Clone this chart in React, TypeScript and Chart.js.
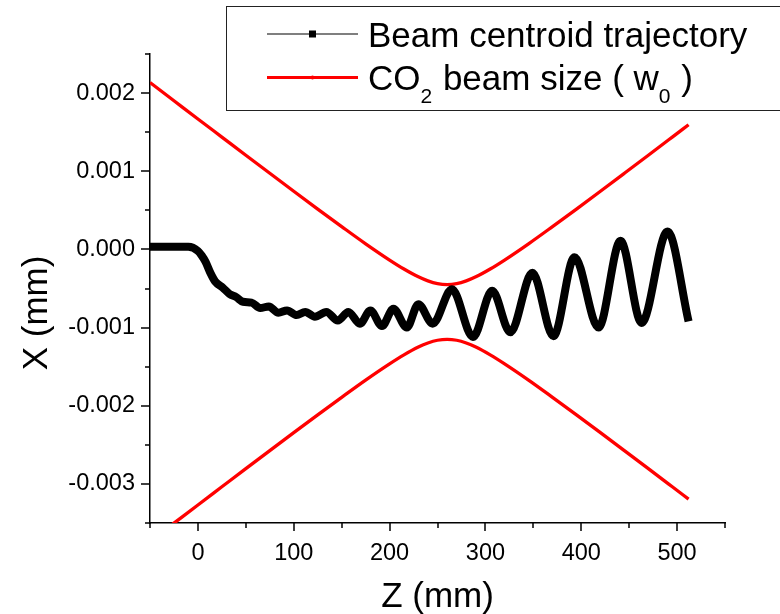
import React, { useEffect, useRef } from 'react';
import { Chart, registerables } from 'chart.js';

Chart.register(...registerables);

// Beam centroid trajectory (Z in mm, X in mm)
const trajZ = [-50, -30, -10, 0, 4, 8, 13, 18, 26, 33, 40, 47, 56, 65, 74, 84, 93, 103, 112, 122, 134, 146, 157, 169, 180, 192, 204, 218, 230, 245, 265, 287, 307, 326, 349, 371, 393, 418, 441, 463, 490, 512];
const trajX = [0.000035, 0.000035, 0.000033, -0.00002, -0.00008, -0.00016, -0.0003, -0.00041, -0.00049, -0.00057, -0.00061, -0.00067, -0.00068, -0.00075, -0.00073, -0.00081, -0.00078, -0.00084, -0.0008, -0.00086, -0.0008, -0.00091, -0.0008, -0.00095, -0.00078, -0.00098, -0.00076, -0.001, -0.0007, -0.00095, -0.00051, -0.00112, -0.00053, -0.00106, -0.0003, -0.00111, -0.0001, -0.001, 0.00011, -0.00094, 0.00023, -0.00092];

// CO2 beam size envelope (upper and lower edges)
const beamZ = [-50, -25, 0, 25, 50, 75, 100, 125, 150, 175, 200, 215, 230, 240, 250, 260, 270, 280, 290, 305, 320, 345, 370, 395, 420, 445, 470, 495, 512];
const beamUpper = [0.002135, 0.001902, 0.001669, 0.001437, 0.001205, 0.000974, 0.000744, 0.000516, 0.000292, 0.000072, -0.000136, -0.000251, -0.000351, -0.000403, -0.000438, -0.00045, -0.000438, -0.000403, -0.000351, -0.000251, -0.000136, 0.000072, 0.000292, 0.000516, 0.000744, 0.000974, 0.001205, 0.001437, 0.001595];
const beamLower = [-0.003735, -0.003502, -0.003269, -0.003037, -0.002805, -0.002574, -0.002344, -0.002116, -0.001892, -0.001672, -0.001464, -0.001349, -0.001249, -0.001197, -0.001162, -0.00115, -0.001162, -0.001197, -0.001249, -0.001349, -0.001464, -0.001672, -0.001892, -0.002116, -0.002344, -0.002574, -0.002805, -0.003037, -0.003195];

// Labelled (major) ticks
const xMajorTicks = [0, 100, 200, 300, 400, 500];
const yMajorTicks = [-0.003, -0.002, -0.001, 0, 0.001, 0.002];

const xTitle = 'Z (mm)';
const yTitle = 'X (mm)';
const legendTrajectory = 'Beam centroid trajectory';

const FONT = '"Liberation Sans", Arial, Helvetica, sans-serif';

const isMajorX = (v: number) => xMajorTicks.some((t) => Math.abs(t - v) < 1e-6);
const isMajorY = (v: number) => yMajorTicks.some((t) => Math.abs(t - v) < 1e-9);

const decorPlugin = {
  id: 'decor',
  afterDraw(chart: any) {
    const { ctx, chartArea } = chart;
    const xs = chart.scales.x;
    const ys = chart.scales.y;
    ctx.save();
    ctx.strokeStyle = '#000';
    ctx.lineWidth = 1.5;
    // tick marks
    xs.ticks.forEach((t: any) => {
      const px = Math.round(xs.getPixelForValue(t.value));
      const len = isMajorX(t.value) ? 8 : 5;
      ctx.beginPath();
      ctx.moveTo(px, chartArea.bottom);
      ctx.lineTo(px, chartArea.bottom + len);
      ctx.stroke();
    });
    ys.ticks.forEach((t: any) => {
      const py = Math.round(ys.getPixelForValue(t.value));
      const len = isMajorY(t.value) ? 9 : 5;
      ctx.beginPath();
      ctx.moveTo(chartArea.left, py);
      ctx.lineTo(chartArea.left - len, py);
      ctx.stroke();
    });

    // axis titles
    ctx.fillStyle = '#000';
    ctx.font = `35px ${FONT}`;
    ctx.textAlign = 'center';
    ctx.textBaseline = 'alphabetic';
    ctx.fillText(xTitle, (chartArea.left + chartArea.right) / 2, 607);
    ctx.save();
    ctx.translate(47, 313);
    ctx.rotate(-Math.PI / 2);
    ctx.fillText(yTitle, 0, 0);
    ctx.restore();

    // legend box
    ctx.fillStyle = '#fff';
    ctx.fillRect(226.5, 6.5, 600, 104);
    ctx.strokeStyle = '#222';
    ctx.lineWidth = 1;
    ctx.strokeRect(226.5, 6.5, 600, 104);

    // legend sample 1: black line with square marker
    ctx.strokeStyle = '#000';
    ctx.lineWidth = 1.2;
    ctx.beginPath();
    ctx.moveTo(267, 34);
    ctx.lineTo(358, 34);
    ctx.stroke();
    ctx.fillStyle = '#000';
    ctx.fillRect(309, 30.5, 7, 7);

    // legend sample 2: red line
    ctx.strokeStyle = '#ff0000';
    ctx.lineWidth = 3.2;
    ctx.beginPath();
    ctx.moveTo(267, 77.5);
    ctx.lineTo(358, 77.5);
    ctx.stroke();
    ctx.fillStyle = '#ff0000';
    ctx.beginPath();
    ctx.arc(312.5, 77.5, 2, 0, Math.PI * 2);
    ctx.fill();

    // legend texts
    ctx.fillStyle = '#000';
    ctx.textAlign = 'left';
    ctx.font = `35px ${FONT}`;
    ctx.fillText(legendTrajectory, 368, 47);
    let cx = 368;
    const big = `35px ${FONT}`;
    const small = `21px ${FONT}`;
    const parts: [string, string, number][] = [
      ['CO', big, 90],
      ['2', small, 103],
      [' beam size ( w', big, 90],
      ['0', small, 103],
      [' )', big, 90],
    ];
    parts.forEach(([txt, f, by]) => {
      ctx.font = f;
      ctx.fillText(txt, cx, by);
      cx += ctx.measureText(txt).width + (f === small ? 1 : 0);
    });
    ctx.restore();
  },
};

export default function App() {
  const canvasRef = useRef<HTMLCanvasElement | null>(null);

  useEffect(() => {
    if (!canvasRef.current) return;
    const chart = new Chart(canvasRef.current, {
      type: 'scatter',
      data: {
        datasets: [
          {
            label: 'Beam centroid trajectory',
            data: trajZ.map((z, i) => ({ x: z, y: trajX[i] })),
            showLine: true,
            borderColor: '#000',
            backgroundColor: '#000',
            borderWidth: 8,
            pointRadius: 0,
            cubicInterpolationMode: 'monotone',
            borderJoinStyle: 'round',
          },
          {
            label: 'CO2 beam size upper',
            data: beamZ.map((z, i) => ({ x: z, y: beamUpper[i] })),
            showLine: true,
            borderColor: '#ff0000',
            backgroundColor: '#ff0000',
            borderWidth: 3.3,
            pointRadius: 0,
            cubicInterpolationMode: 'monotone',
          },
          {
            label: 'CO2 beam size lower',
            data: beamZ.map((z, i) => ({ x: z, y: beamLower[i] })),
            showLine: true,
            borderColor: '#ff0000',
            backgroundColor: '#ff0000',
            borderWidth: 3.3,
            pointRadius: 0,
            cubicInterpolationMode: 'monotone',
          },
        ],
      },
      options: {
        animation: false,
        responsive: false,
        events: [],
        layout: { padding: { top: 54, right: 55, left: 0, bottom: 0 } },
        plugins: {
          legend: { display: false },
          tooltip: { enabled: false },
        },
        scales: {
          x: {
            type: 'linear',
            min: -50,
            max: 550,
            afterFit: (s: any) => {
              s.height = 91;
            },
            border: { display: true, color: '#000', width: 1.5 },
            grid: { display: true, drawOnChartArea: false, drawTicks: true, tickLength: 8, tickColor: 'rgba(0,0,0,0)' },
            ticks: {
              stepSize: 50,
              autoSkip: false,
              maxRotation: 0,
              padding: 8,
              color: '#000',
              font: { family: FONT, size: 23.5 },
              callback: (v: any) => (isMajorX(Number(v)) ? String(Math.round(Number(v))) : ''),
            },
          },
          y: {
            type: 'linear',
            min: -0.0035,
            max: 0.0025,
            afterFit: (s: any) => {
              s.width = 150;
            },
            border: { display: true, color: '#000', width: 1.5 },
            grid: { display: true, drawOnChartArea: false, drawTicks: true, tickLength: 9, tickColor: 'rgba(0,0,0,0)' },
            ticks: {
              stepSize: 0.0005,
              autoSkip: false,
              padding: 6,
              color: '#000',
              font: { family: FONT, size: 23.5 },
              callback: (v: any) => {
                const n = Number(v);
                return isMajorY(n) ? (Math.round(n * 1000) / 1000).toFixed(3) : '';
              },
            },
          },
        },
      },
      plugins: [decorPlugin],
    } as any);
    return () => chart.destroy();
  }, []);

  return (
    <div style={{ position: 'fixed', left: 0, top: 0, width: 780, height: 614, overflow: 'hidden', background: '#fff' }}>
      <canvas ref={canvasRef} width={780} height={614} style={{ display: 'block', width: 780, height: 614 }} />
    </div>
  );
}
